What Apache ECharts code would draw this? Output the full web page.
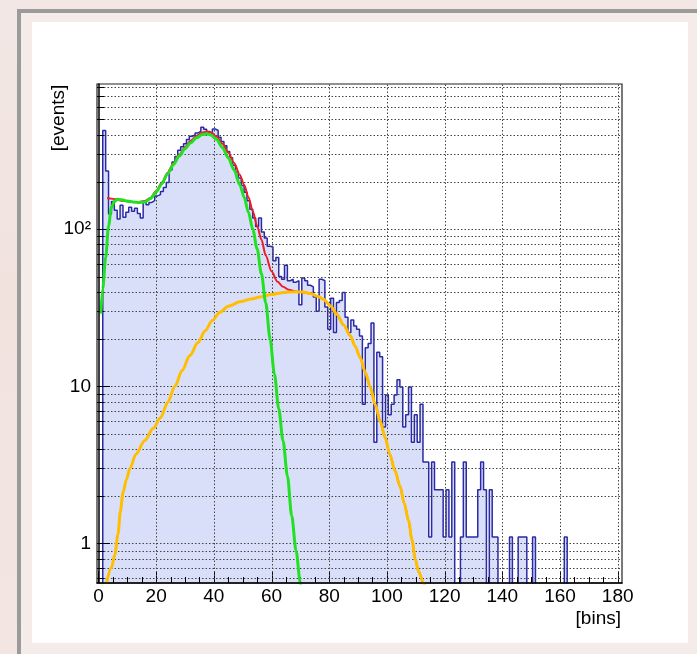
<!DOCTYPE html>
<html>
<head>
<meta charset="utf-8">
<script src="https://cdn.jsdelivr.net/npm/echarts@6.0.0/dist/echarts.min.js"></script>
<style>
  html, body { margin: 0; padding: 0; }
  body { width: 697px; height: 654px; overflow: hidden; position: relative;
         background: linear-gradient(180deg, #f2e7e4 0%, #f1e2de 45%, #f3e6e2 100%); }
  #frame { position: absolute; left: 17px; top: 9px; width: 700px; height: 660px;
           border-left: 4px solid #9b9b9b; border-top: 4px solid #9b9b9b; background: #f5ebe8; }
  #panel { position: absolute; left: 32px; top: 22px; width: 656px; height: 621px; background: #fff; }
  #main { position: absolute; left: 0; top: 0; width: 697px; height: 654px; }
</style>
</head>
<body>
<div id="frame"></div>
<div id="panel"></div>
<div id="main"></div>
<script type="text/javascript">
	var X_MIN = -0.5, X_MAX = 181.5;
	var Y_MIN = 0.56, Y_MAX = 840;

	// bin contents, bin i is centred on x = i
	var counts = [
		0, 0, 425, 235, 125, 150, 132, 116, 142, 119,
		128, 138, 130, 136, 126, 118, 150, 143, 148, 152,
		163, 166, 174, 184, 198, 238, 268, 290, 318, 335,
		350, 372, 390, 398, 410, 420, 445, 432, 418, 408,
		435, 425, 385, 362, 340, 312, 285, 255, 232, 212,
		190, 172, 152, 134, 118, 104, 118, 96, 88, 78,
		77, 63, 66, 50, 48, 59, 47, 48, 46, 47,
		33, 49, 47, 44, 43, 37, 30, 48, 47, 32,
		23.1, 36.3, 22, 34.1, 35.2, 39.6, 27.5, 22, 26.4, 24.2,
		23.1, 20.9, 7.7, 17.6, 18.7, 25.3, 4.4, 16.5, 15.4, 5.5,
		8.8, 6.6, 7.7, 8.8, 11, 9.9, 5.5, 6.6, 9.9, 4.4,
		6.6, 4.4, 7.7, 3.3, 3.3, 1.1, 3.3, 2.2, 2.2, 2.2,
		1.1, 2.2, 1.1, 3.3, 0, 0, 1.1, 3.3, 1.1, 1.1,
		1.1, 1.1, 2.2, 3.3, 2.2, 0, 2.2, 1.1, 1.1, 0,
		0, 0, 0, 1.1, 0, 0, 1.1, 1.1, 1.1, 0,
		0, 1.1, 0, 0, 0, 0, 0, 0, 0, 0,
		0, 0, 1.1, 0
	];

	var greenFit = [
		[0.8, 29], [1.5, 42], [2.5, 66], [3.5, 105], [4.5, 138], [5.5, 150], [6.5, 155],
		[8, 154], [10, 151], [12, 149], [14, 148], [16, 149], [18, 156], [20, 172],
		[22, 195], [24, 225], [26, 258], [28, 292], [30, 325], [32, 355], [34, 382],
		[36, 400], [37.5, 405], [39, 398], [41, 372], [43, 330], [45, 285], [47, 238],
		[49, 192], [50.5, 160], [52, 128], [53.5, 100], [55, 75], [56.5, 52], [58, 34],
		[59.5, 20], [61, 12], [62.5, 7.2], [64, 4.5], [65.5, 2.7], [67, 1.5], [68.5, 0.9],
		[70, 0.56], [71, 0.4]
	];

	var redFit = [
		[3, 158], [4, 157], [6, 155], [8, 152], [10, 150], [12, 149], [14, 149], [16, 151],
		[18, 158], [20, 175], [22, 198], [24, 229], [26, 263], [28, 298], [30, 333],
		[32, 365], [34, 392], [36, 412], [37.5, 418], [39, 412], [41, 388], [43, 350],
		[45, 308], [47, 265], [49, 222], [50.5, 192], [52, 160], [53.5, 130], [55, 105],
		[56.5, 86], [58, 68], [60, 54], [62, 46.5], [64, 43], [66, 41.2], [68, 40.3],
		[70, 39.8], [73.4, 39], [76, 37.5], [78, 35.8], [80.5, 32.5], [82.6, 28.8],
		[85, 24.6], [87.3, 21], [89, 18], [90.7, 15.3], [92.5, 12.3], [94.2, 9.9],
		[96, 7.6], [97.7, 6.0], [99.4, 4.7], [101, 3.7], [102.8, 2.9], [104.6, 2.3],
		[106, 1.8], [107.5, 1.4], [108.7, 1.05], [109.8, 0.8], [111, 0.66], [112.7, 0.56],
		[113.5, 0.5]
	];

	var orangeFit = [
		[2.8, 0.56], [4.5, 0.7], [5.7, 0.85], [6.8, 1.15], [7.6, 1.6], [8.5, 2.1],
		[9.7, 2.55], [10.9, 3.0], [13, 3.7], [16, 4.5], [19, 5.4], [21.5, 6.3], [24, 7.9],
		[26.5, 10], [29, 12.6], [31.7, 15.7], [34.5, 19], [37, 22.6], [39.5, 26.2],
		[42, 29.5], [45, 32.3], [49, 34.5], [53, 36], [56, 37], [60, 38.4], [63, 39.3],
		[66, 39.8], [68.7, 40], [71, 39.8], [73.4, 39], [76, 37.5], [78, 35.8], [80.5, 32.5],
		[82.6, 28.8], [85, 24.6], [87.3, 21], [89, 18], [90.7, 15.3], [92.5, 12.3],
		[94.2, 9.9], [96, 7.6], [97.7, 6.0], [99.4, 4.7], [101, 3.7], [102.8, 2.9],
		[104.6, 2.3], [106, 1.8], [107.5, 1.4], [108.7, 1.05], [109.8, 0.8], [111, 0.66],
		[112.7, 0.56], [113.5, 0.5]
	];

	var xLabels = [0, 20, 40, 60, 80, 100, 120, 140, 160, 180];
	var xMinor = [5, 10, 15, 25, 30, 35, 45, 50, 55, 65, 70, 75, 85, 90, 95,
		105, 110, 115, 125, 130, 135, 145, 150, 155, 165, 170, 175];
	var yMajor = [1, 10, 100];
	var yLabels = ['1', '10', '10²'];
	var yMinor = [0.6, 0.7, 0.8, 0.9, 2, 3, 4, 5, 6, 7, 8, 9,
		20, 30, 40, 50, 60, 70, 80, 90, 200, 300, 400, 500, 600, 700, 800];

	var FONT = "'Liberation Sans', Arial, Helvetica, sans-serif";

	// step outline of the histogram, empty bins pushed below the axis
	var histData = [];
	for (var i = 0; i < counts.length; i++) {
		histData.push([i - 0.5, counts[i] > 0 ? counts[i] : Y_MIN / 10]);
	}
	histData.push([counts.length - 0.5, Y_MIN / 10]);

	function crisp(v) { return Math.round(v) + 0.5; }

	var chart = echarts.init(document.getElementById('main'));
	var option = {
		backgroundColor: 'transparent',
		animation: false,
		grid: {
			left: 97, top: 84, width: 525, height: 499,
			show: true, borderColor: '#222', borderWidth: 1.2, backgroundColor: 'transparent'
		},
		xAxis: {
			type: 'value', min: X_MIN, max: X_MAX, z: 8,
			axisLine: { lineStyle: { color: '#000', width: 1.5 } },
			axisTick: { show: false },
			splitLine: { show: false },
			axisLabel: {
				customValues: xLabels,
				margin: 4,
				color: '#000', fontSize: 19, fontFamily: FONT,
				formatter: function (v) {
					return xLabels.indexOf(Math.round(v)) >= 0 && Math.abs(v - Math.round(v)) < 1e-6 ? String(Math.round(v)) : '';
				}
			}
		},
		yAxis: {
			type: 'log', logBase: 10, min: Y_MIN, max: Y_MAX, z: 8,
			axisLine: { show: true, lineStyle: { color: '#000', width: 1.5 } },
			axisTick: { show: false },
			splitLine: { show: false },
			minorTick: { show: false },
			axisLabel: {
				margin: 6,
				color: '#000', fontSize: 19, fontFamily: FONT,
				formatter: function (v) {
					for (var k = 0; k < yMajor.length; k++) {
						if (Math.abs(v - yMajor[k]) < 1e-6 * yMajor[k]) return yLabels[k];
					}
					return '';
				}
			}
		},
		graphic: [
			{
				type: 'text', x: 59, y: 118, rotation: Math.PI / 2,
				style: { text: '[events]', fill: '#000', fontSize: 19, fontFamily: FONT, align: 'center', verticalAlign: 'middle' }
			},
			{
				type: 'text', x: 621, y: 619,
				style: { text: '[bins]', fill: '#000', fontSize: 19, fontFamily: FONT, align: 'right', verticalAlign: 'middle' }
			}
		],
		series: [
			{
				name: 'histogram',
				type: 'line',
				step: 'end',
				data: histData,
				symbol: 'none',
				z: 2,
				lineStyle: { color: '#2a2aa6', width: 1.5 },
				areaStyle: { color: 'rgba(92,118,230,0.33)', origin: Y_MIN }
			},
			{
				name: 'yGrid',
				type: 'custom',
				coordinateSystem: 'cartesian2d',
				silent: true,
				z: 3,
				data: yMajor.map(function (v) { return [X_MIN, v, 1]; })
					.concat(yMinor.map(function (v) { return [X_MIN, v, 0]; })),
				renderItem: function (params, api) {
					var v = api.value(1);
					var a = api.coord([X_MIN, v]);
					var b = api.coord([X_MAX, v]);
					var y = crisp(a[1]);
					var len = api.value(2) ? 13 : 7;
					return {
						type: 'group',
						children: [
							{ type: 'line', shape: { x1: a[0], y1: y, x2: b[0], y2: y },
								style: { stroke: '#444', lineWidth: 1, lineDash: [1.5, 2] } },
							{ type: 'line', shape: { x1: a[0], y1: y, x2: a[0] + len, y2: y },
								style: { stroke: '#000', lineWidth: 1 } }
						]
					};
				}
			},
			{
				name: 'xGrid',
				type: 'custom',
				coordinateSystem: 'cartesian2d',
				silent: true,
				z: 3,
				data: xLabels.map(function (v) { return [v, Y_MIN, 1]; })
					.concat(xMinor.map(function (v) { return [v, Y_MIN, 0]; })),
				renderItem: function (params, api) {
					var v = api.value(0);
					var a = api.coord([v, Y_MIN]);
					var b = api.coord([v, Y_MAX]);
					var x = crisp(a[0]);
					var major = api.value(2);
					var children = [
						{ type: 'line', shape: { x1: x, y1: a[1], x2: x, y2: a[1] - (major ? 12 : 6) },
							style: { stroke: '#000', lineWidth: 1 } }
					];
					if (major && v > 0) {
						children.push({ type: 'line', shape: { x1: x, y1: a[1], x2: x, y2: b[1] },
							style: { stroke: '#444', lineWidth: 1, lineDash: [1.5, 2] } });
					}
					return { type: 'group', children: children };
				}
			},
			{
				name: 'total fit',
				type: 'line',
				data: redFit,
				symbol: 'none',
				smooth: 0.3,
				smoothMonotone: 'x',
				z: 4,
				lineStyle: { color: '#ee1c24', width: 2 }
			},
			{
				name: 'tail',
				type: 'line',
				data: orangeFit,
				symbol: 'none',
				smooth: 0.3,
				smoothMonotone: 'x',
				z: 5,
				lineStyle: { color: '#ffbe00', width: 3 }
			},
			{
				name: 'peak',
				type: 'line',
				data: greenFit,
				symbol: 'none',
				smooth: 0.3,
				smoothMonotone: 'x',
				z: 6,
				lineStyle: { color: '#22e022', width: 3 }
			}
		]
	};
	chart.setOption(option);
</script>
</body>
</html>
